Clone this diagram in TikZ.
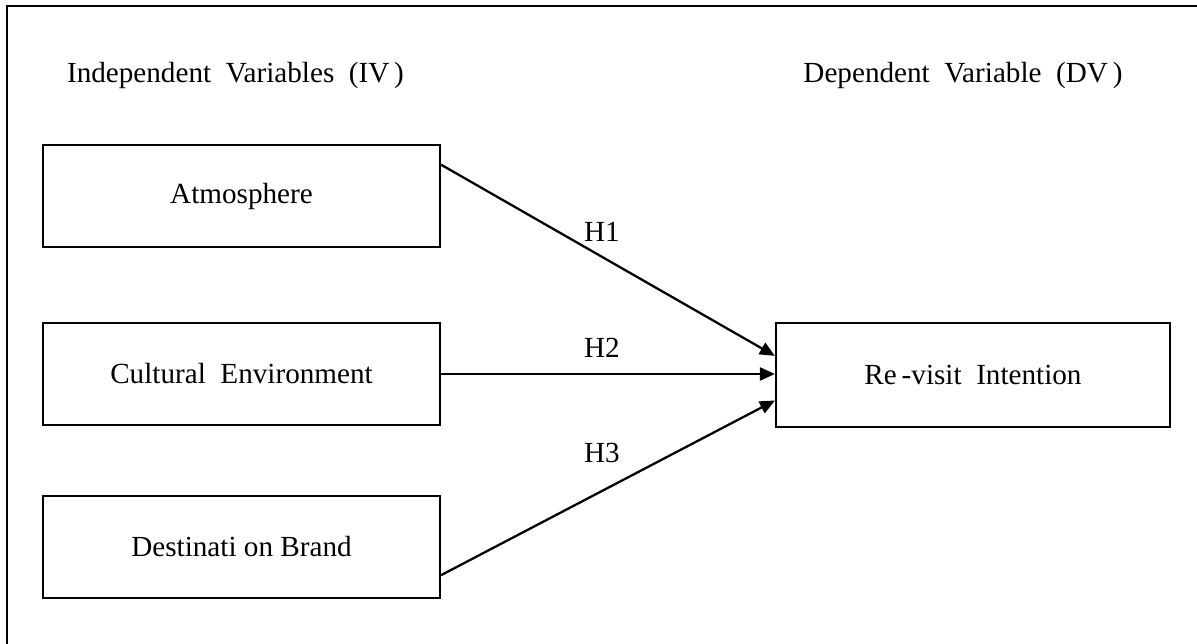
\documentclass[tikz,border=0pt]{standalone}
\usepackage{fontspec}
\setmainfont{Liberation Serif}
\usetikzlibrary{arrows.meta,positioning,calc}
\tikzset{
  varbox/.style={draw,line width=1.3pt,minimum width=7.94cm,minimum height=2.04cm,font=\fontsize{16.6}{20}\selectfont},
  hyplink/.style={line width=1.3pt,-{Triangle[length=3mm,width=2.6mm]}},
  hyplabel/.style={font=\fontsize{16.6}{20}\selectfont},
}
\begin{document}
\begin{tikzpicture}[x=0.02cm,y=-0.02cm]
  \useasboundingbox (0,0) rectangle (1197,644);
  %% Frame (only left and top edges show)
  \draw[line width=1.3pt] (7,650) -- (7,6) -- (1200,6);
  %% Column headings
  \node[hyplabel] (ivhead) at (235.5,75) {Independent~ Variables~ (IV\,)};
  \node[hyplabel] (dvhead) at (963,75) {Dependent~ Variable~ (DV\,)};
  %% Variables
  \node[varbox] (atmo) at (241.5,196) {Atmosphere};
  \node[varbox] (cult) at (241.5,374) {Cultural~ Environment};
  \node[varbox] (dest) at (241.5,547) {Destinati on Brand};
  \node[varbox,minimum width=7.88cm,minimum height=2.08cm] (revisit) at (973,375) {Re\,-visit~ Intention};
  %% Hypotheses
  \coordinate (h1a) at ($(atmo.north east)!0.2!(atmo.south east)$);
  \coordinate (h1b) at ($(revisit.north west)!0.32!(revisit.south west)$);
  \coordinate (h3a) at ($(dest.north east)!0.77!(dest.south east)$);
  \coordinate (h3b) at ($(revisit.north west)!0.74!(revisit.south west)$);
  \draw[hyplink] (h1a) -- (h1b);
  \draw[hyplink] (cult.east) -- (cult.east -| revisit.west);
  \draw[hyplink] (h3a) -- (h3b);
  \node[hyplabel] (h1) at (602,232) {H1};
  \node[hyplabel] (h2) at (602,348) {H2};
  \node[hyplabel] (h3) at (602,453) {H3};
\end{tikzpicture}
\end{document}
